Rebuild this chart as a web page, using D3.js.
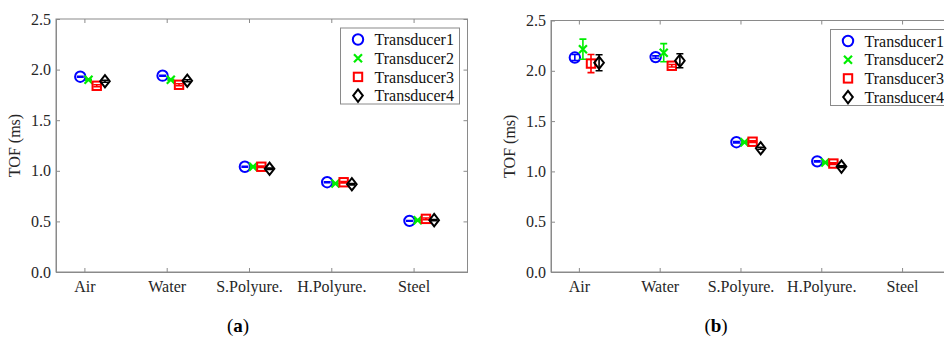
<!DOCTYPE html>
<html>
<head>
<meta charset="utf-8">
<script src="https://cdn.jsdelivr.net/npm/d3@7"></script>
<style>
  html, body { margin: 0; padding: 0; background: #fff; }
  svg { display: block; }
</style>
</head>
<body>
<svg id="chart" width="944" height="340"></svg>
<script>
// Materials on the x axis
const categories = ["Air", "Water", "S.Polyure.", "H.Polyure.", "Steel"];
const yTicks = [0.0, 0.5, 1.0, 1.5, 2.0, 2.5];
const seriesNames = ["Transducer1", "Transducer2", "Transducer3", "Transducer4"];

// Panel (a): mean time of flight (ms) per transducer and its spread
const tofA1 = [1.93, 1.94, 1.04, 0.887, 0.505];
const tofA2 = [1.90, 1.90, 1.04, 0.874, 0.512];
const tofA3 = [1.84, 1.85, 1.04, 0.887, 0.525];
const tofA4 = [1.885, 1.89, 1.02, 0.867, 0.512];
const errA1 = [0.004, 0.004, 0.004, 0.004, 0.004];
const errA2 = [0.004, 0.004, 0.004, 0.004, 0.004];
const errA3 = [0.01, 0.01, 0.008, 0.008, 0.008];
const errA4 = [0.01, 0.01, 0.006, 0.006, 0.006];

// Panel (b): no readings for steel
const tofB1 = [2.132, 2.136, 1.29, 1.10, null];
const tofB2 = [2.215, 2.18, 1.29, 1.088, null];
const tofB3 = [2.072, 2.05, 1.295, 1.078, null];
const tofB4 = [2.08, 2.10, 1.23, 1.048, null];
const errB1 = [0.03, 0.012, 0.006, 0.006, null];
const errB2 = [0.10, 0.09, 0.006, 0.006, null];
const errB3 = [0.09, 0.012, 0.008, 0.008, null];
const errB4 = [0.08, 0.07, 0.01, 0.008, null];

const colors = ["#0000ff", "#00ee00", "#ff0000", "#000000"];
const offsets = [-0.05, 0.05, 0.15, 0.25];
const axisColor = "#8a8a8a";
const textColor = "#262626";
const serifFont = '"Liberation Serif", serif';

const svg = d3.select("#chart").style("font-family", serifFont);

function styleText(sel, size) {
  sel.attr("font-family", null).style("font-family", serifFont).style("font-size", size);
}

function drawMarker(g, i, cx, cy) {
  const c = colors[i];
  if (i === 0) {
    g.append("circle").attr("cx", cx).attr("cy", cy).attr("r", 5.2)
      .attr("fill", "none").attr("stroke", c).attr("stroke-width", 2);
  } else if (i === 1) {
    const h = 4;
    g.append("path")
      .attr("d", `M${cx - h},${cy - h}L${cx + h},${cy + h}M${cx - h},${cy + h}L${cx + h},${cy - h}`)
      .attr("stroke", c).attr("stroke-width", 2.2).attr("fill", "none");
  } else if (i === 2) {
    const h = 4.2;
    g.append("rect").attr("x", cx - h).attr("y", cy - h).attr("width", 2 * h).attr("height", 2 * h)
      .attr("fill", "none").attr("stroke", c).attr("stroke-width", 2);
  } else {
    const w = 4.8, hh = 6.2;
    g.append("path")
      .attr("d", `M${cx},${cy - hh}L${cx + w},${cy}L${cx},${cy + hh}L${cx - w},${cy}Z`)
      .attr("fill", "none").attr("stroke", c).attr("stroke-width", 2);
  }
}

function drawPanel(opts) {
  const { left, top, width, height, values, errors, caption, captionX, legendGap } = opts;
  const g = svg.append("g");

  const x = d3.scaleLinear().domain([0.655, 5.655]).range([left, left + width]);
  const y = d3.scaleLinear().domain([0, 2.5]).range([top + height, top]);
  const catPos = categories.map((c, k) => k + 1);

  // Box
  g.append("rect").attr("x", left).attr("y", top).attr("width", width).attr("height", height)
    .attr("fill", "none").attr("stroke", axisColor).attr("stroke-width", 1);

  // Left axis with inward ticks
  const yAxis = d3.axisLeft(y).tickValues(yTicks).tickFormat(d3.format(".1f"))
    .tickSizeInner(-4).tickSizeOuter(0).tickPadding(5);
  const ya = g.append("g").attr("transform", `translate(${left},0)`).call(yAxis);
  ya.attr("font-family", null).attr("font-size", null);
  ya.select(".domain").attr("stroke", axisColor);
  ya.selectAll(".tick line").attr("stroke", axisColor);
  styleText(ya.selectAll(".tick text").attr("fill", textColor), "16px");

  // Right side ticks
  const yR = d3.axisRight(y).tickValues(yTicks).tickFormat("").tickSizeInner(-4).tickSizeOuter(0);
  const yr = g.append("g").attr("transform", `translate(${left + width},0)`).call(yR);
  yr.select(".domain").remove();
  yr.selectAll(".tick line").attr("stroke", axisColor);

  // Bottom axis with category labels
  const xAxis = d3.axisBottom(x).tickValues(catPos).tickFormat((d) => categories[d - 1])
    .tickSizeInner(-4).tickSizeOuter(0).tickPadding(9);
  const xa = g.append("g").attr("transform", `translate(0,${top + height})`).call(xAxis);
  xa.attr("font-family", null).attr("font-size", null);
  xa.select(".domain").attr("stroke", axisColor);
  xa.selectAll(".tick line").attr("stroke", axisColor);
  styleText(xa.selectAll(".tick text").attr("fill", textColor), "16px");

  // Top ticks
  const xT = d3.axisTop(x).tickValues(catPos).tickFormat("").tickSizeInner(-4).tickSizeOuter(0);
  const xt = g.append("g").attr("transform", `translate(0,${top})`).call(xT);
  xt.select(".domain").remove();
  xt.selectAll(".tick line").attr("stroke", axisColor);

  // Y label
  const yl = g.append("text")
    .attr("transform", `translate(${left - 36},${y(1.25)}) rotate(-90)`)
    .attr("text-anchor", "middle").attr("fill", textColor)
    .text("TOF (ms)");
  styleText(yl, "16px");

  // Data: error bars then markers
  const cap = 3.5;
  values.forEach((series, si) => {
    const sg = g.append("g");
    series.forEach((v, k) => {
      if (v === null) return;
      const e = errors[si][k];
      const cx = x(catPos[k] + offsets[si]);
      const cy = y(v);
      const y0 = y(v - e), y1 = y(v + e);
      sg.append("path")
        .attr("d", `M${cx},${y0}L${cx},${y1}M${cx - cap},${y0}L${cx + cap},${y0}M${cx - cap},${y1}L${cx + cap},${y1}`)
        .attr("stroke", colors[si]).attr("stroke-width", 1.6).attr("fill", "none");
      drawMarker(sg, si, cx, cy);
    });
  });

  // Legend
  const lgW = 119, lgH = 76;
  const lgX = left + width - legendGap - lgW, lgY = top + 9;
  const lg = g.append("g");
  lg.append("rect").attr("x", lgX).attr("y", lgY).attr("width", lgW).attr("height", lgH)
    .attr("fill", "#fff").attr("stroke", axisColor).attr("stroke-width", 1);
  seriesNames.forEach((name, si) => {
    const ly = lgY + 11.5 + si * 18.7;
    drawMarker(lg, si, lgX + 17.5, ly);
    const t = lg.append("text").attr("x", lgX + 34).attr("y", ly).attr("dy", "0.35em")
      .attr("fill", "#111").text(name);
    styleText(t, "16px");
  });

  // Panel caption
  const capText = g.append("text").attr("x", captionX).attr("y", 332)
    .attr("text-anchor", "middle").attr("fill", "#000");
  styleText(capText, "19px");
  capText.append("tspan").text("(");
  capText.append("tspan").style("font-weight", "bold").text(caption);
  capText.append("tspan").text(")");
}

drawPanel({
  left: 56, top: 19, width: 411.5, height: 253,
  values: [tofA1, tofA2, tofA3, tofA4],
  errors: [errA1, errA2, errA3, errA4],
  caption: "a", captionX: 238, legendGap: 8
});

drawPanel({
  left: 551, top: 20.5, width: 404, height: 251.5,
  values: [tofB1, tofB2, tofB3, tofB4],
  errors: [errB1, errB2, errB3, errB4],
  caption: "b", captionX: 716, legendGap: 5.5
});
</script>
</body>
</html>
